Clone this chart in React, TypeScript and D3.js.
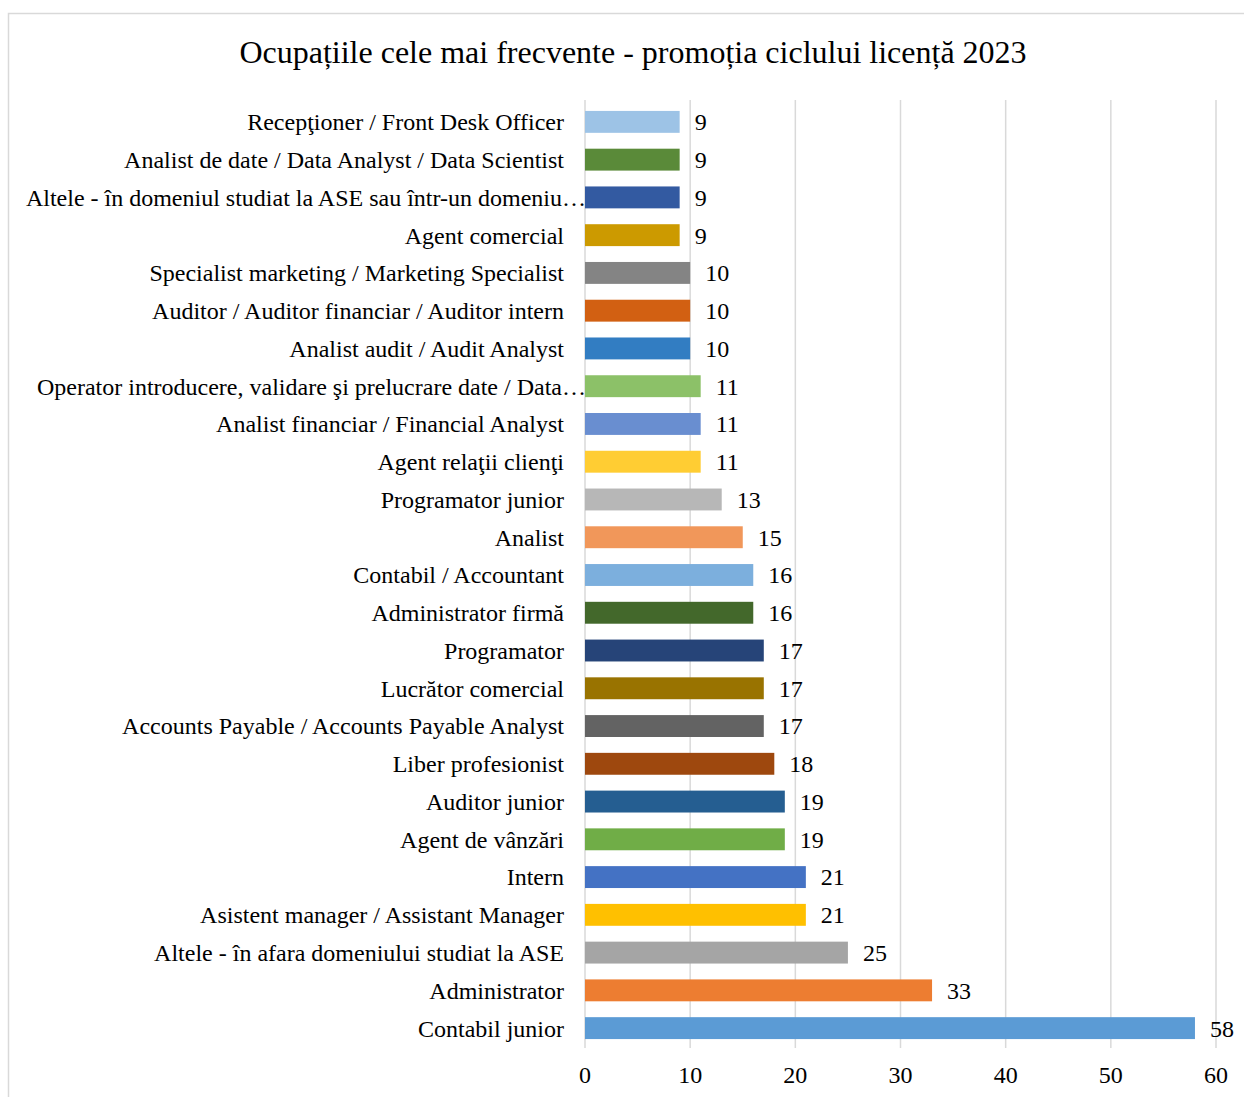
import React from "react";
import * as d3 from "d3";

const titleText = "Ocupațiile cele mai frecvente - promoția ciclului licență 2023";

const categories = [
  "Contabil junior",
  "Administrator",
  "Altele - în afara domeniului studiat la ASE",
  "Asistent manager / Assistant Manager",
  "Intern",
  "Agent de vânzări",
  "Auditor junior",
  "Liber profesionist",
  "Accounts Payable / Accounts Payable Analyst",
  "Lucrător comercial",
  "Programator",
  "Administrator firmă",
  "Contabil / Accountant",
  "Analist",
  "Programator junior",
  "Agent relaţii clienţi",
  "Analist financiar / Financial Analyst",
  "Operator introducere, validare şi prelucrare date / Data…",
  "Analist audit / Audit Analyst",
  "Auditor / Auditor financiar / Auditor intern",
  "Specialist marketing / Marketing Specialist",
  "Agent comercial",
  "Altele - în domeniul studiat la ASE sau într-un domeniu…",
  "Analist de date / Data Analyst / Data Scientist",
  "Recepţioner / Front Desk Officer",
];

const values = [58, 33, 25, 21, 21, 19, 19, 18, 17, 17, 17, 16, 16, 15, 13, 11, 11, 11, 10, 10, 10, 9, 9, 9, 9];

const colors = [
  "#5B9BD5", "#ED7D31", "#A5A5A5", "#FFC000", "#4472C4", "#70AD47",
  "#255E91", "#9E480E", "#636363", "#997300", "#264478", "#43682B",
  "#7CAFDD", "#F1975A", "#B7B7B7", "#FFCD33", "#698ED0", "#8CC168",
  "#327DC2", "#D26012", "#848484", "#CC9A00", "#335AA1", "#5A8A39",
  "#9DC3E6",
];

const xTicks = [0, 10, 20, 30, 40, 50, 60];

const W = 1244;
const H = 1097;
const plotLeft = 585;
const plotRight = 1216;
const plotTop = 103;
const plotBottom = 1047;
const FONT = "'Liberation Serif', 'Times New Roman', serif";
const FS = 24;

export default function App() {
  const x = d3.scaleLinear().domain([0, 60]).range([plotLeft, plotRight]);
  const order = categories.map((_, i) => i).reverse(); // top to bottom
  const y = d3
    .scaleBand<number>()
    .domain(order)
    .range([plotTop, plotBottom])
    .paddingInner(0.42)
    .paddingOuter(0.21);

  return (
    <svg
      width={W}
      height={H}
      style={{ position: "absolute", left: 0, top: 0, background: "#fff" }}
      fontFamily={FONT}
    >
      <rect x={0} y={0} width={W} height={H} fill="#fff" />
      <rect x={8.5} y={13.5} width={W + 20} height={H + 20} fill="none" stroke="#D9D9D9" strokeWidth={1.5} />
      <text x={633} y={63} textAnchor="middle" fontSize={32} fill="#000">
        {titleText}
      </text>
      {xTicks.map((t) => (
        <g key={t}>
          <line x1={x(t)} x2={x(t)} y1={plotTop - 3} y2={plotBottom + 1} stroke="#D9D9D9" strokeWidth={1.5} />
          <text x={x(t)} y={1083} textAnchor="middle" fontSize={FS} fill="#000">
            {t}
          </text>
        </g>
      ))}
      {categories.map((c, i) => {
        const yy = y(i)!;
        const bw = y.bandwidth();
        const truncated = c.endsWith("…");
        return (
          <g key={c}>
            <rect x={x(0)} y={yy} width={x(values[i]) - x(0)} height={bw} fill={colors[i]} />
            <text
              x={truncated ? plotLeft + 1 : plotLeft - 21}
              y={yy + bw / 2}
              dy="0.35em"
              textAnchor="end"
              fontSize={FS}
              fill="#000"
            >
              {c}
            </text>
            <text x={x(values[i]) + 15} y={yy + bw / 2} dy="0.35em" textAnchor="start" fontSize={FS} fill="#000">
              {values[i]}
            </text>
          </g>
        );
      })}
    </svg>
  );
}
